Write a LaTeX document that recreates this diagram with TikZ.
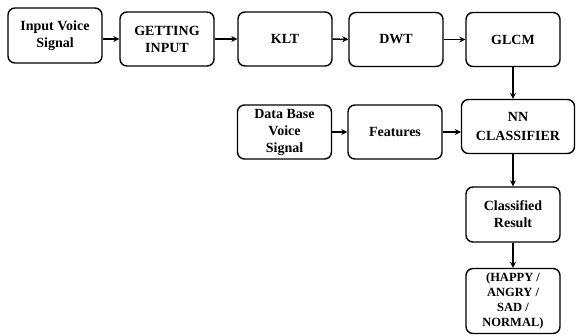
\documentclass[tikz,border=0pt]{standalone}
\usepackage{fontspec}
\setmainfont{Liberation Serif}
\usetikzlibrary{arrows.meta}

\begin{document}
\begin{tikzpicture}[x=1pt, y=-1pt,
    block/.style={draw, line width=1.4pt, rounded corners=7pt, align=center, inner sep=2pt,
        minimum width=94pt, minimum height=54pt, font=\bfseries\fontsize{14}{17}\selectfont},
    flow/.style={line width=1.5pt, -{Stealth[length=6pt, width=6pt]}}]
    \useasboundingbox (0,0) rectangle (576,335);
    \node [block, minimum height=55pt] (voice) at (55,35.5) {Input Voice\\Signal};
    \node [block] (getin) at (167,39) {GETTING\\INPUT};
    \node [block] (klt) at (285,39) {KLT};
    \node [block] (dwt) at (396,39.5) {DWT};
    \node [block] (glcm) at (513,39.5) {GLCM};
    \node [block] (dbase) at (284.5,132) {Data Base\\Voice\\Signal};
    \node [block] (feat) at (395,132) {Features};
    \node [block, minimum width=113pt] (nn) at (518,126.5) {NN\\[2pt]CLASSIFIER};
    \node [block, minimum height=55pt] (result) at (513,214.5) {Classified\\Result};
    \node [block, minimum height=65pt, font=\bfseries\fontsize{12.5}{15}\selectfont] (emo) at (513,301) {(HAPPY /\\ANGRY /\\SAD /\\NORMAL)};
    \draw [flow] (voice.east |- getin.west) -- (getin.west);
    \draw [flow] (getin) -- (klt);
    \draw [flow] (klt) -- (dwt);
    \draw [flow] (dwt) -- (glcm);
    \draw [flow] (glcm.south) -- (glcm.south |- nn.north);
    \draw [flow] (dbase) -- (feat);
    \draw [flow] (feat.east) -- (feat.east -| nn.west);
    \draw [flow] (result.north |- nn.south) -- (result.north);
    \draw [flow] (result) -- (emo);
\end{tikzpicture}
\end{document}
